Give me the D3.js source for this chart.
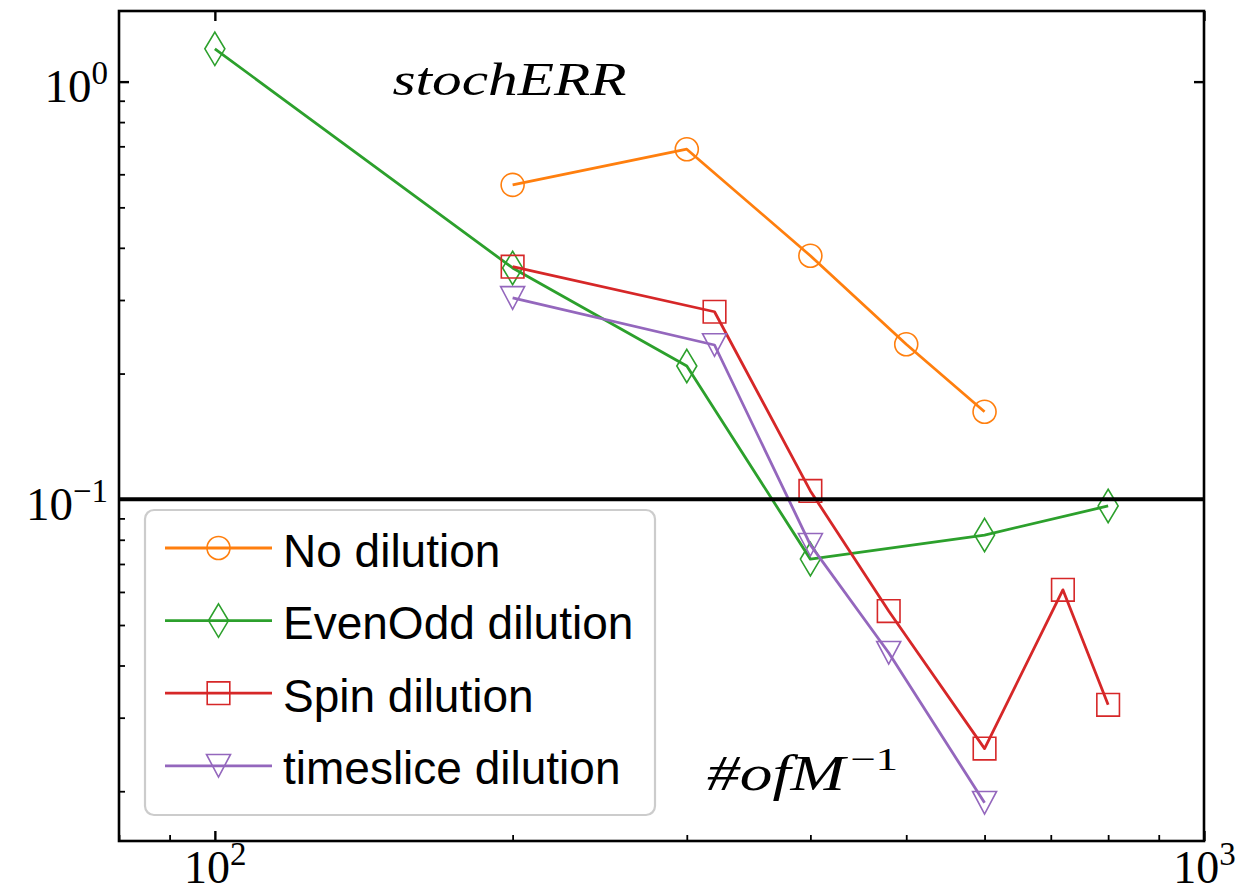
<!DOCTYPE html>
<html>
<head>
<meta charset="utf-8">
<script src="https://cdn.jsdelivr.net/npm/d3@7"></script>
<style>
  body { margin: 0; background: #fff; }
</style>
</head>
<body>
<div id="container"></div>
<script>
// values
let seriesNames = ["No dilution", "EvenOdd dilution", "Spin dilution", "timeslice dilution"];
let seriesColors = ["#ff7f0e", "#2ca02c", "#d62728", "#9467bd"];
let seriesMarkers = ["circle", "thinDiamond", "square", "triangleDown"];

let xNoDilution = [200, 300, 400, 500, 600];
let yNoDilution = [0.566, 0.689, 0.383, 0.235, 0.162];

let xEvenOdd = [100, 200, 300, 400, 600, 800];
let yEvenOdd = [1.198, 0.358, 0.2085, 0.0719, 0.0821, 0.0964];

let xSpin = [200, 320, 400, 480, 600, 720, 800];
let ySpin = [0.3605, 0.2812, 0.1047, 0.054, 0.0253, 0.0607, 0.0322];

let xTimeslice = [200, 320, 400, 480, 600];
let yTimeslice = [0.3034, 0.2341, 0.0778, 0.0429, 0.01877];

let xTicks = [100, 1000];
let yTicks = [0.1, 1];
let refLine = 0.1;

let w = 1242;
let h = 894;
let plotLeft = 119;
let plotTop = 11;
let plotRight = 1204;
let plotBottom = 841;

let viz = d3.select("#container")
  .append("svg")
    .attr("width", w)
    .attr("height", h)
;

let xScale = d3.scaleLog().domain([80, 1000]).range([plotLeft, plotRight]);
let yScale = d3.scaleLog().domain([0.0152, 1.476]).range([plotBottom, plotTop]);

function isMajor(d){
  let l = Math.log10(d);
  return Math.abs(l - Math.round(l)) < 1e-6;
}
let xMinor = xScale.ticks().filter(d => !isMajor(d));
let yMinor = yScale.ticks().filter(d => !isMajor(d));

// turns "2" into 10 with a raised 2
function powerLabels(g){
  g.selectAll(".tick text").each(function(d){
    let t = d3.select(this);
    let e = Math.round(Math.log10(d));
    t.text(null);
    t.append("tspan").text("10");
    t.append("tspan")
      .attr("font-size", 33)
      .attr("dy", -18)
      .text(e < 0 ? "\u2212" + (-e) : e);
  });
}

function styleAxis(g, width){
  g.select(".domain").remove();
  g.selectAll(".tick line").attr("stroke", "#000").attr("stroke-width", width);
}

// bottom
let xAxisGroup = viz.append("g")
    .attr("transform", "translate(0," + plotBottom + ")")
    .call(d3.axisBottom(xScale).tickValues(xTicks).tickSizeInner(-10).tickSizeOuter(0)
      .tickPadding(9).tickFormat(d => d))
;
styleAxis(xAxisGroup, 2.4);
xAxisGroup.attr("font-size", 46).attr("font-family", "'Liberation Serif', serif");
xAxisGroup.selectAll(".tick text").attr("fill", "#000");
powerLabels(xAxisGroup);

let xMinorGroup = viz.append("g")
    .attr("transform", "translate(0," + plotBottom + ")")
    .call(d3.axisBottom(xScale).tickValues(xMinor).tickSizeInner(-6).tickSizeOuter(0).tickFormat(""))
;
styleAxis(xMinorGroup, 1.8);

// left
let yAxisGroup = viz.append("g")
    .attr("transform", "translate(" + plotLeft + ",0)")
    .call(d3.axisLeft(yScale).tickValues(yTicks).tickSizeInner(-10).tickSizeOuter(0)
      .tickPadding(11).tickFormat(d => d))
;
styleAxis(yAxisGroup, 2.4);
yAxisGroup.attr("font-size", 47).attr("font-family", "'Liberation Serif', serif");
yAxisGroup.selectAll(".tick text").attr("fill", "#000").attr("dy", "0.42em");
powerLabels(yAxisGroup);

let yMinorGroup = viz.append("g")
    .attr("transform", "translate(" + plotLeft + ",0)")
    .call(d3.axisLeft(yScale).tickValues(yMinor).tickSizeInner(-6).tickSizeOuter(0).tickFormat(""))
;
styleAxis(yMinorGroup, 1.8);

// top and right, major ticks only
let topGroup = viz.append("g")
    .attr("transform", "translate(0," + plotTop + ")")
    .call(d3.axisTop(xScale).tickValues(xTicks).tickSizeInner(-10).tickSizeOuter(0).tickFormat(""))
;
styleAxis(topGroup, 2.4);

let rightGroup = viz.append("g")
    .attr("transform", "translate(" + plotRight + ",0)")
    .call(d3.axisRight(yScale).tickValues(yTicks).tickSizeInner(-10).tickSizeOuter(0).tickFormat(""))
;
styleAxis(rightGroup, 2.4);

// marker shapes
function markerPath(type){
  if (type == "circle") {
    let r = 11.5;
    return "M" + (-r) + ",0A" + r + "," + r + " 0 1,0 " + r + ",0A" + r + "," + r + " 0 1,0 " + (-r) + ",0Z";
  }
  if (type == "thinDiamond") {
    return "M0,-16.7L10,0L0,16.7L-10,0Z";
  }
  if (type == "square") {
    return "M-11.3,-11.3H11.3V11.3H-11.3Z";
  }
  return "M-12,-11.3H12L0,11.3Z";
}

let seriesList = [
  { name: seriesNames[0], color: seriesColors[0], marker: seriesMarkers[0], points: d3.zip(xNoDilution, yNoDilution) },
  { name: seriesNames[1], color: seriesColors[1], marker: seriesMarkers[1], points: d3.zip(xEvenOdd, yEvenOdd) },
  { name: seriesNames[2], color: seriesColors[2], marker: seriesMarkers[2], points: d3.zip(xSpin, ySpin) },
  { name: seriesNames[3], color: seriesColors[3], marker: seriesMarkers[3], points: d3.zip(xTimeslice, yTimeslice) }
];

let lineMaker = d3.line()
  .x(d => xScale(d[0]))
  .y(d => yScale(d[1]))
;

seriesList.forEach(function(s){
  viz.append("path")
    .datum(s.points)
    .attr("d", lineMaker)
    .attr("fill", "none")
    .attr("stroke", s.color)
    .attr("stroke-width", 2.8)
    .attr("stroke-linejoin", "round")
  ;
  viz.selectAll(null)
    .data(s.points)
    .enter()
    .append("path")
      .attr("d", markerPath(s.marker))
      .attr("transform", d => "translate(" + xScale(d[0]) + "," + yScale(d[1]) + ")")
      .attr("fill", "none")
      .attr("stroke", s.color)
      .attr("stroke-width", 1.6)
  ;
});

// the 10^-1 line
viz.append("line")
  .attr("x1", plotLeft)
  .attr("x2", plotRight)
  .attr("y1", yScale(refLine))
  .attr("y2", yScale(refLine))
  .attr("stroke", "#000")
  .attr("stroke-width", 4)
;

// frame
viz.append("rect")
  .attr("x", plotLeft)
  .attr("y", plotTop)
  .attr("width", plotRight - plotLeft)
  .attr("height", plotBottom - plotTop)
  .attr("fill", "none")
  .attr("stroke", "#000")
  .attr("stroke-width", 2.6)
;

// math-style notes
let note1 = viz.append("text")
  .attr("x", plotLeft + 0.252 * (plotRight - plotLeft))
  .attr("y", plotTop + 0.101 * (plotBottom - plotTop))
  .attr("font-family", "'Liberation Serif', serif")
  .attr("font-style", "italic")
  .attr("font-size", 46)
  .attr("textLength", 234)
  .attr("lengthAdjust", "spacingAndGlyphs")
  .text("stochERR")
;

let note2x = plotLeft + 0.542 * (plotRight - plotLeft);
let note2y = plotTop + 0.938 * (plotBottom - plotTop);
viz.append("text")
  .attr("x", note2x)
  .attr("y", note2y)
  .attr("font-family", "'Liberation Serif', serif")
  .attr("font-style", "italic")
  .attr("font-size", 50)
  .attr("textLength", 138)
  .attr("lengthAdjust", "spacingAndGlyphs")
  .text("#ofM")
;
viz.append("text")
  .attr("x", note2x + 143)
  .attr("y", note2y - 20)
  .attr("font-family", "'Liberation Serif', serif")
  .attr("font-size", 32)
  .attr("textLength", 48)
  .attr("lengthAdjust", "spacingAndGlyphs")
  .text("\u22121")
;

// legend
let legend = viz.append("g");
legend.append("rect")
  .attr("x", 145)
  .attr("y", 510)
  .attr("width", 510)
  .attr("height", 305)
  .attr("rx", 9)
  .attr("fill", "#fff")
  .attr("fill-opacity", 0.8)
  .attr("stroke", "#cccccc")
  .attr("stroke-width", 2.2)
;

let rows = legend.selectAll("g.row")
  .data(seriesList)
  .enter()
  .append("g")
    .attr("class", "row")
    .attr("transform", (d, i) => "translate(0," + (548 + i * 72.6) + ")")
;
rows.append("line")
  .attr("x1", 165)
  .attr("x2", 272)
  .attr("stroke", d => d.color)
  .attr("stroke-width", 2.8)
;
rows.append("path")
  .attr("d", d => markerPath(d.marker))
  .attr("transform", "translate(218.5,0)")
  .attr("fill", "none")
  .attr("stroke", d => d.color)
  .attr("stroke-width", 1.6)
;
rows.append("text")
  .attr("x", 283)
  .attr("y", 18.5)
  .attr("font-family", "'Liberation Sans', Arial, sans-serif")
  .attr("font-size", 46)
  .attr("fill", "#000")
  .text(d => d.name)
;
</script>
</body>
</html>
